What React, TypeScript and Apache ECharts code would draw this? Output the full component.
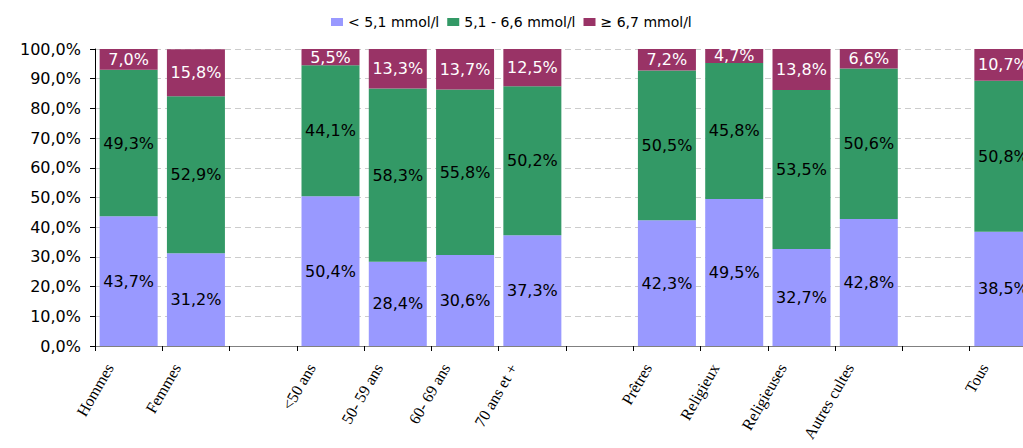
import React, { useEffect, useRef } from "react";
import * as echarts from "echarts";

const categories = [
  "Hommes", "Femmes", "",
  "<50 ans", "50- 59 ans", "60- 69 ans", "70 ans et +", "",
  "Prêtres", "Religieux", "Religieuses", "Autres cultes", "",
  "Tous",
];
const low = [43.7, 31.2, null, 50.4, 28.4, 30.6, 37.3, null, 42.3, 49.5, 32.7, 42.8, null, 38.5];
const mid = [49.3, 52.9, null, 44.1, 58.3, 55.8, 50.2, null, 50.5, 45.8, 53.5, 50.6, null, 50.8];
const high = [7.0, 15.8, null, 5.5, 13.3, 13.7, 12.5, null, 7.2, 4.7, 13.8, 6.6, null, 10.7];
const seriesNames = ["< 5,1 mmol/l", "5,1 - 6,6 mmol/l", "≥ 6,7 mmol/l"];
const colors = ["#9999FF", "#339966", "#993366"];
const yTicks = [0, 10, 20, 30, 40, 50, 60, 70, 80, 90, 100];

const fmt = (v: number) => v.toFixed(1).replace(".", ",") + "%";

export default function App() {
  const ref = useRef<HTMLDivElement>(null);
  useEffect(() => {
    const chart = echarts.init(ref.current!, null, { renderer: "svg" });
    const mk = (name: string, data: (number | null)[], color: string, labelColor: string) => ({
      name,
      type: "bar",
      stack: "total",
      data,
      barWidth: 58,
      itemStyle: { color },
      label: {
        show: true,
        position: "inside",
        color: labelColor,
        fontFamily: "DejaVu Sans",
        fontSize: 16,
        formatter: (p: any) => fmt(p.value),
      },
    });
    chart.setOption({
      animation: false,
      color: colors,
      legend: {
        top: 10,
        left: 326,
        itemWidth: 12,
        itemHeight: 8,
        itemGap: 8,
        icon: "rect",
        textStyle: { fontFamily: "DejaVu Sans", fontSize: 14, color: "#000" },
        data: seriesNames,
      },
      grid: { left: 95, right: 3, top: 49, bottom: 102, containLabel: false },
      xAxis: {
        type: "category",
        data: categories,
        axisLine: { lineStyle: { color: "#808080", width: 1 } },
        axisTick: { show: true, length: 5, lineStyle: { color: "#000" } },
        axisLabel: {
          interval: 0,
          rotate: 60,
          margin: -14,
          padding: [0, 38, 16, 0],
          fontFamily: "Liberation Serif",
          fontSize: 16,
          color: "#000",
        },
        splitLine: { show: false },
      },
      yAxis: {
        type: "value",
        min: 0,
        max: 100,
        interval: 10,
        axisLine: { show: true, lineStyle: { color: "#000" } },
        axisTick: { show: true, length: 5, lineStyle: { color: "#000" } },
        axisLabel: {
          fontFamily: "DejaVu Sans",
          fontSize: 16,
          color: "#000",
          margin: 14,
          formatter: (v: number) => (yTicks.includes(v) ? fmt(v) : ""),
        },
        splitLine: { show: true, lineStyle: { color: "#cccccc", type: [6, 4] } },
      },
      series: [
        mk(seriesNames[0], low, colors[0], "#000"),
        mk(seriesNames[1], mid, colors[1], "#000"),
        mk(seriesNames[2], high, colors[2], "#fff"),
      ],
    });
    return () => chart.dispose();
  }, []);
  return (
    <div style={{ position: "absolute", left: 0, top: 0, width: 1023, height: 448, overflow: "hidden" }}>
      <div ref={ref} style={{ position: "absolute", left: 0, top: 0, width: 1040, height: 448 }} />
    </div>
  );
}
